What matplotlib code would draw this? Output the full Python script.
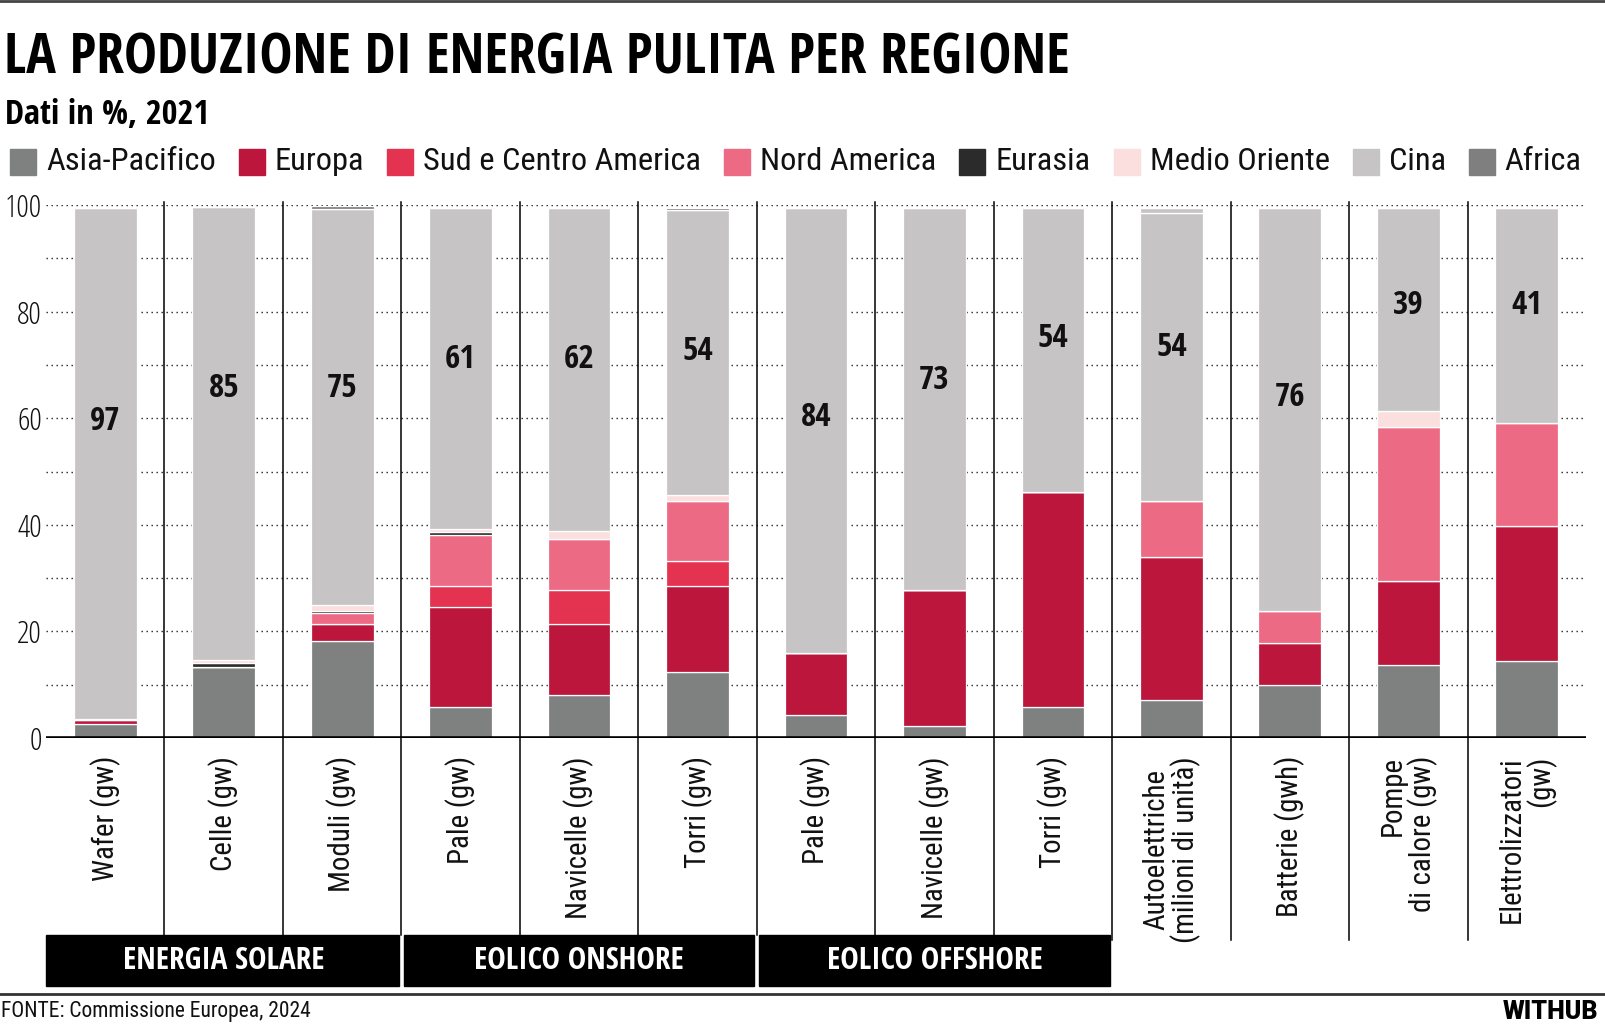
import os
import matplotlib
matplotlib.use("Agg")
import matplotlib.pyplot as plt
from matplotlib import font_manager as fm
from matplotlib.patches import Rectangle
from matplotlib.lines import Line2D
from matplotlib.transforms import blended_transform_factory

# ---------------- data ----------------
categories = ['Wafer (gw)', 'Celle (gw)', 'Moduli (gw)',
              'Pale (gw)', 'Navicelle (gw)', 'Torri (gw)',
              'Pale (gw)', 'Navicelle (gw)', 'Torri (gw)',
              'Autoelettriche\n(milioni di unità)', 'Batterie (gwh)',
              'Pompe\ndi calore (gw)', 'Elettrolizzatori\n(gw)']
label_align = ['center'] * 9 + ['center', 'center', 'right', 'right']

groups = ['ENERGIA SOLARE', 'EOLICO ONSHORE', 'EOLICO OFFSHORE']
group_first = [0, 3, 6]
group_last = [2, 5, 8]

series_names = ['Asia-Pacifico', 'Europa', 'Sud e Centro America', 'Nord America',
                'Eurasia', 'Medio Oriente', 'Cina', 'Africa']

asia_pacifico = [2.7, 13.4, 18.2, 5.9, 8.0, 12.3, 4.4, 2.2, 5.9, 7.2, 10.0, 13.7, 14.4]
europa = [0.7, 0.0, 3.1, 18.6, 13.4, 16.3, 11.5, 25.5, 40.3, 26.7, 7.8, 15.7, 25.4]
sud_centro_america = [0.0, 0.0, 0.0, 4.1, 6.3, 4.6, 0.0, 0.0, 0.0, 0.0, 0.0, 0.0, 0.0]
nord_america = [0.2, 0.0, 2.2, 9.5, 9.7, 11.3, 0.0, 0.0, 0.0, 10.6, 6.1, 29.0, 19.3]
eurasia = [0.0, 0.6, 0.4, 0.6, 0.0, 0.0, 0.0, 0.0, 0.0, 0.0, 0.0, 0.0, 0.0]
medio_oriente = [0.0, 0.6, 1.0, 0.6, 1.5, 1.0, 0.0, 0.0, 0.0, 0.0, 0.0, 3.0, 0.0]
cina = [95.9, 85.0, 74.3, 60.2, 60.6, 53.6, 83.6, 71.8, 53.3, 54.0, 75.6, 38.1, 40.4]
africa = [0.0, 0.0, 0.6, 0.0, 0.0, 0.4, 0.0, 0.0, 0.0, 0.0, 0.0, 0.0, 0.0]
altro = [0.0, 0.0, 0.0, 0.0, 0.0, 0.0, 0.0, 0.0, 0.0, 1.0, 0.0, 0.0, 0.0]
cina_labels = [97, 85, 75, 61, 62, 54, 84, 73, 54, 54, 76, 39, 41]

y_ticks = [0, 20, 40, 60, 80, 100]

# ---------------- style / layout ----------------
colors = ['#7f8080', '#bc163c', '#e43350', '#ec6a84', '#2b2b2b', '#fbdfdf', '#c6c4c5', '#7f7f7f']
label_y = [59.3, 65.5, 65.5, 71.0, 71.0, 72.6, 60.1, 67.0, 74.9, 73.3, 63.9, 81.2, 81.2]

W, H = 1606, 1033


def fx(px):
    return px / W


def fy(py):
    return 1 - py / H


_files = {}
for _f in fm.fontManager.ttflist:
    _files.setdefault(os.path.basename(_f.fname).lower().rsplit('.', 1)[0], _f.fname)


def find_font(keys, generic=None, fallback=('DejaVu Sans', 'normal')):
    for key in keys:
        if key in _files:
            return fm.FontProperties(fname=_files[key])
    if generic:
        for stem, fn in sorted(_files.items()):
            if ('cond' in stem or 'narrow' in stem) and 'italic' not in stem \
                    and all(g in stem for g in generic[0]) \
                    and not any(g in stem for g in generic[1]):
                return fm.FontProperties(fname=fn)
    return fm.FontProperties(family=fallback[0], weight=fallback[1])


f_title = find_font(['opensans-condbold', 'opensanscondensed-bold', 'robotocondensed-black',
                     'robotocondensed-bold', 'notosans-extracondensedblack',
                     'notosans-condensedblack', 'notosans-condensedbold',
                     'liberationsansnarrow-bold', 'roboto-black', 'roboto-bold'],
                    (['bold'], ['semi']), ('DejaVu Sans', 'bold'))
f_bold = find_font(['opensans-condbold', 'opensanscondensed-bold', 'robotocondensed-bold',
                    'notosans-condensedbold', 'liberationsansnarrow-bold', 'roboto-bold'],
                   (['bold'], ['semi', 'extra']), ('DejaVu Sans', 'bold'))
f_reg = find_font(['robotocondensed-regular', 'opensans-condlight', 'opensanscondensed-light',
                   'notosans-condensed', 'liberationsansnarrow-regular', 'roboto-regular'],
                  (['regular'], []), ('DejaVu Sans', 'normal'))
f_light = find_font(['opensans-condlight', 'opensanscondensed-light', 'robotocondensed-light',
                     'notosans-condensedlight', 'liberationsansnarrow-regular', 'roboto-light'],
                    (['light'], []), ('DejaVu Sans', 'normal'))
f_heavy = find_font(['roboto-black', 'lato-black', 'inter-black'], None, ('DejaVu Sans', 'bold'))

fig = plt.figure(figsize=(W / 100, H / 100), dpi=100)
fig.patch.set_facecolor('white')
renderer = fig.canvas.get_renderer()


def fit_width(t, target):
    bb = t.get_window_extent(renderer)
    t.set_fontsize(t.get_fontsize() * target / bb.width)


ax = fig.add_axes([fx(46), fy(738), fx(1586) - fx(46), (738 - 205) / H])
ax.set_xlim(-0.5, 12.5)
ax.set_ylim(0, 100)
for s in ax.spines.values():
    s.set_visible(False)
ax.set_facecolor('none')

# grid
for v in range(10, 101, 10):
    ax.axhline(v, color='#222222', lw=1.0, ls=(0, (1, 2.6)), zorder=1)
ax.axhline(0, color='black', lw=2.6, zorder=6)

# bars
x = list(range(len(categories)))
series = [asia_pacifico, europa, sud_centro_america, nord_america, eurasia,
          medio_oriente, cina, altro, africa]
series_colors = colors[:7] + [colors[6], colors[7]]
bottom = [0.0] * len(x)
for vals, col in zip(series, series_colors):
    ax.bar(x, vals, bottom=bottom, width=0.53, color=col, edgecolor='white',
           linewidth=0.9, zorder=3)
    bottom = [b + v for b, v in zip(bottom, vals)]

# China labels
for i, lab in enumerate(cina_labels):
    t = ax.text(i, label_y[i], str(lab), ha='center', va='center',
                fontproperties=f_bold, fontsize=22, color='#111111', zorder=5)
    if i == 0:
        bb = t.get_window_extent(renderer)
        t.set_fontsize(22 * 25 / bb.height * 1.3)
        lsize = t.get_fontsize()
    else:
        t.set_fontsize(lsize)

# ticks
ax.set_yticks(y_ticks)
ax.set_yticklabels([str(v) for v in y_ticks])
ax.tick_params(axis='y', length=0, pad=3)
ylab = ax.get_yticklabels()
for t in ylab:
    t.set_fontproperties(f_light)
    t.set_fontsize(21)
    t.set_color('#111111')
bb = ylab[-1].get_window_extent(renderer)
ysc = 37 / bb.width
for t in ylab:
    t.set_fontsize(21 * ysc)

ax.set_xticks(x)
ax.set_xticklabels(categories, rotation=90, va='top', ha='center')
ax.tick_params(axis='x', length=0, pad=13)
for t, al in zip(ax.get_xticklabels(), label_align):
    t.set_fontproperties(f_reg)
    t.set_fontsize(20)
    t.set_multialignment(al)
    t.set_color('#111111')
    t.set_linespacing(1.0)

xl = ax.get_xticklabels()
bbn = xl[4].get_window_extent(renderer)
scale = 162 / bbn.height
for t in xl:
    t.set_fontsize(t.get_fontsize() * scale)

# separators
trans = blended_transform_factory(ax.transData, fig.transFigure)
for i in range(12):
    xs = i + 0.5
    yb = fy(935) if i < 8 else fy(940)
    fig.add_artist(Line2D([xs, xs], [fy(202), yb], transform=trans,
                          color='black', lw=1.1, zorder=2))

# group boxes
gap = 0.022
for k, (name, a, b) in enumerate(zip(groups, group_first, group_last)):
    x0 = a - 0.5 + (0 if k == 0 else gap)
    x1 = b + 0.5 - gap
    fig.add_artist(Rectangle((x0, fy(986)), x1 - x0, fy(935) - fy(986),
                             transform=trans, color='black', zorder=3))
    t = fig.text((a + b) / 2, fy(961), name, transform=trans, ha='center',
                 va='center', color='white', fontproperties=f_bold, fontsize=22, zorder=4)
    if k == 0:
        fit_width(t, 201)
        gsize = t.get_fontsize()
    else:
        t.set_fontsize(gsize)

# rules
fig.add_artist(Line2D([0, 1], [fy(1.2), fy(1.2)], color='#444444', lw=2.0))
fig.add_artist(Line2D([0, 1], [fy(994), fy(994)], color='#333333', lw=2.0))

# title / subtitle
tt = fig.text(fx(4), fy(74), 'LA PRODUZIONE DI ENERGIA PULITA PER REGIONE',
              fontproperties=f_title, fontsize=48, color='black', va='baseline', ha='left')
fit_width(tt, 1068)
st = fig.text(fx(5), fy(124), 'Dati in %, 2021', fontproperties=f_bold, fontsize=24,
              color='black', va='baseline', ha='left')
fit_width(st, 205)

# footer
ft = fig.text(fx(1), fy(1012), 'FONTE: Commissione Europea, 2024', fontproperties=f_reg,
              fontsize=17, color='#111111', va='center', ha='left')
fit_width(ft, 311)
wt = fig.text(fx(1598), fy(1012), 'WITHUB', fontproperties=f_heavy, fontsize=15.5,
              color='black', va='center', ha='right')
fit_width(wt, 95)

# legend (manual, evenly laid out)
sq = 26
sq_gap = 10
item_gap = 23
leg_texts = []
for name in series_names:
    leg_texts.append(fig.text(0, fy(162), name, fontproperties=f_reg, fontsize=24,
                              color='#111111', va='center', ha='left'))
tw = sum(t.get_window_extent(renderer).width for t in leg_texts)
avail = (1581 - 10) - len(series_names) * (sq + sq_gap) - (len(series_names) - 1) * item_gap
for t in leg_texts:
    t.set_fontsize(t.get_fontsize() * avail / tw)
xpos = 10
for t, col in zip(leg_texts, colors):
    fig.add_artist(Rectangle((fx(xpos), fy(175)), sq / W, sq / H,
                             transform=fig.transFigure, color=col))
    t.set_x(fx(xpos + sq + sq_gap))
    xpos += sq + sq_gap + t.get_window_extent(renderer).width + item_gap

fig.savefig('out.png', dpi=100, facecolor='white')
